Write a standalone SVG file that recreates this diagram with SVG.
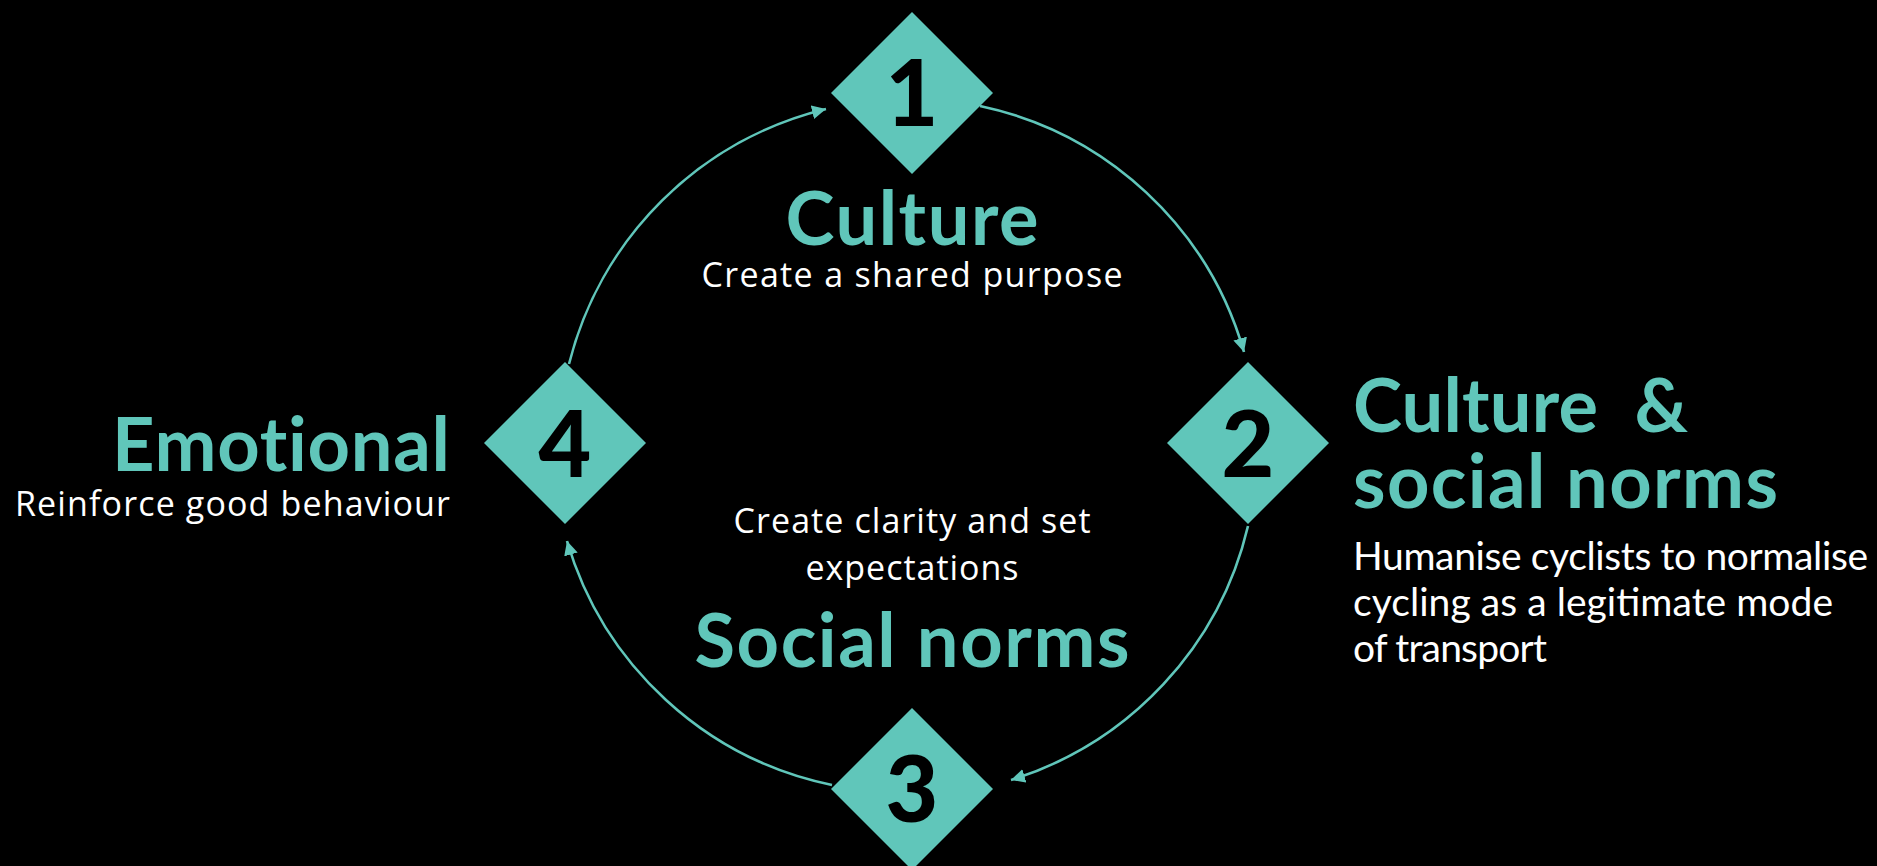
<svg xmlns="http://www.w3.org/2000/svg" width="1877" height="866" viewBox="0 0 1877 866">
<defs>
<style>
.dia{fill:#60C6BA}
.num{font-family:Lato,"Liberation Sans",sans-serif;font-weight:900;font-size:91px;fill:#000;text-anchor:middle}
.head{font-family:Lato,"Liberation Sans",sans-serif;font-weight:700;font-size:74px;fill:#60C6BA;font-variant-ligatures:none}
.body{font-family:"Open Sans","Liberation Sans",sans-serif;font-weight:400;font-size:34px;fill:#fff}
.body2{font-family:Lato,"Liberation Sans",sans-serif;font-weight:400;font-size:39px;fill:#fff}
.arc{fill:none;stroke:#60C6BA;stroke-width:2.6}
</style>
<marker id="ah" markerUnits="userSpaceOnUse" markerWidth="16" markerHeight="16" refX="14" refY="7" orient="auto">
<path d="M0,0 L14,7 L0,14 z" fill="#60C6BA"/>
</marker>
</defs>
<rect width="1877" height="866" fill="#000"/>
<g id="connectors">
<path class="arc" d="M569,364 A350,350 0 0 1 826,109" marker-end="url(#ah)"/>
<path class="arc" d="M980,106 A350,350 0 0 1 1244,352" marker-end="url(#ah)"/>
<path class="arc" d="M1248,526 A350,350 0 0 1 1011,780" marker-end="url(#ah)"/>
<path class="arc" d="M832,785 A350,350 0 0 1 567,541" marker-end="url(#ah)"/>
</g>
<g id="node1">
<polygon class="dia" points="912,12 993,93 912,174 831,93"/>
<text class="num" x="912" y="126">1</text>
<text class="head" x="912" y="245" text-anchor="middle" textLength="253">Culture</text>
<text class="body" x="912" y="287" text-anchor="middle" textLength="421">Create a shared purpose</text>
</g>
<g id="node2">
<polygon class="dia" points="1248,362 1329,443 1248,524 1167,443"/>
<text class="num" x="1248" y="477">2</text>
<text class="head" x="1353" y="432" textLength="335" style="white-space:pre">Culture  &amp;</text>
<text class="head" x="1353" y="508" textLength="425">social norms</text>
<text class="body2" x="1353" y="570" textLength="515">Humanise cyclists to normalise</text>
<text class="body2" x="1353" y="616" textLength="480">cycling as a legitimate mode</text>
<text class="body2" x="1353" y="662" textLength="194">of transport</text>
</g>
<g id="node3">
<polygon class="dia" points="912,708 993,789 912,870 831,789"/>
<text class="num" x="912" y="822">3</text>
<text class="body" x="912" y="533" text-anchor="middle" textLength="357">Create clarity and set</text>
<text class="body" x="912" y="580" text-anchor="middle" textLength="213">expectations</text>
<text class="head" x="912" y="667" text-anchor="middle" textLength="435">Social norms</text>
</g>
<g id="node4">
<polygon class="dia" points="565,362 646,443 565,524 484,443"/>
<text class="num" x="565" y="477">4</text>
<text class="head" x="450" y="471" text-anchor="end" textLength="338">Emotional</text>
<text class="body" x="450" y="516" text-anchor="end" textLength="435">Reinforce good behaviour</text>
</g>
</svg>
